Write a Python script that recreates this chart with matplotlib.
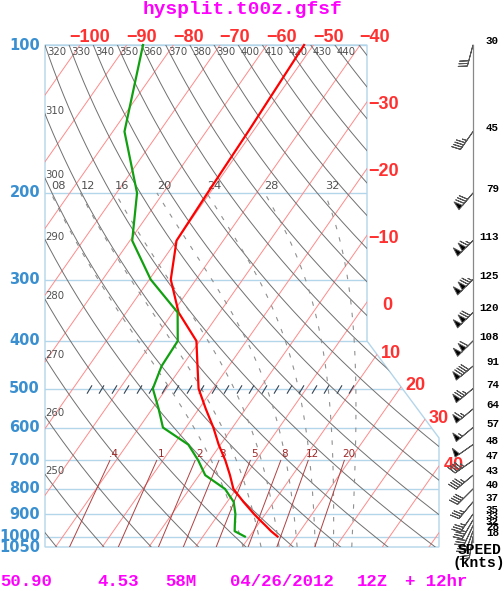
import numpy as np
import matplotlib
matplotlib.use("Agg")
import matplotlib.pyplot as plt
from matplotlib.patches import Polygon
from matplotlib.path import Path

# ---------------- data ----------------
pressure = [100, 150, 200, 250, 300, 350, 400, 450, 500, 550, 600, 650,
            700, 750, 800, 850, 900, 925, 950, 975, 1000]
temperature = [-52.0, -51.0, -50.5, -50.0, -45.4, -38.8, -30.7, -26.7, -23.1,
               -18.5, -14.1, -10.4, -6.6, -3.4, -0.6, 3.5, 7.6, 9.7, 11.8,
               13.8, 16.0]
dewpoint = [-86.5, -77.5, -65.6, -59.5, -49.7, -39.0, -34.7, -34.4, -32.9,
            -28.6, -24.9, -16.9, -12.4, -8.7, -2.4, 1.4, 3.6, 4.4, 5.2, 6.0,
            9.0]
wind_speed = [30, 45, 79, 113, 125, 120, 108, 91, 74, 64, 57, 48, 47, 43, 40,
              37, 35, 33, 32, 28, 18]
wind_dir = [195, 215, 220, 225, 225, 225, 225, 230, 230, 230, 230, 235, 235,
            230, 225, 220, 215, 210, 205, 200, 190]

isobar_levels = [100, 200, 300, 400, 500, 600, 700, 800, 900, 1000]
pressure_labels = [100, 200, 300, 400, 500, 600, 700, 800, 900, 1000, 1050]
isotherm_values = list(range(-110, 60, 10))
top_T_labels = [-100, -90, -80, -70, -60, -50, -40]
right_T_labels = [-30, -20, -10, 0, 10, 20, 30, 40]
theta_values = list(range(240, 460, 10))
theta_left_labels = [250, 260, 270, 280, 290, 300, 310]
theta_top_labels = [320, 330, 340, 350, 360, 370, 380, 390, 400, 410, 420, 430, 440]
moist_values = [8, 12, 16, 20, 24, 28, 32]
moist_labels = ["08", "12", "16", "20", "24", "28", "32"]
mixr_values = [0.4, 1, 2, 3, 5, 8, 12, 20]
mixr_labels = [".4", "1", "2", "3", "5", "8", "12", "20"]

title = "hysplit.t00z.gfsf"
footer = [("50.90", 0), ("4.53", 97), ("58M", 165), ("04/26/2012", 230),
          ("12Z", 357), ("+ 12hr", 405)]

# ---------------- geometry / style ----------------
W, H = 504, 591
K = 32.0          # skew (deg C per ln p)
XL, XR = -107.5, -23.1
XM = XL + (367 - 45) / 394.0 * (XR - XL)
P_DIAG_TOP, P_DIAG_BOT = 400, 630
PX = 0.72         # points per pixel at 100 dpi

BLUE = "#3a8fd0"
ISOBAR = "#b4d6ea"
ISOTHERM = "#ff8a8a"
MIXR = "#b04040"
DRY = "#707070"
MOIST = "#909090"
RED_LBL = "#ff3030"
MAGENTA = "#ff00ff"


def skew(T, p):
    return np.asarray(T, dtype=float) - K * np.log(np.asarray(p, dtype=float) / 100.0)


fig = plt.figure(figsize=(W / 100, H / 100), dpi=100)
fig.patch.set_facecolor("white")


def px_axes(x0, y0, x1, y1):
    return fig.add_axes([x0 / W, 1 - y1 / H, (x1 - x0) / W, (y1 - y0) / H])


def ftext(x, y, s, **kw):
    fig.text(x / W, 1 - y / H, s, **kw)


ax = px_axes(45, 45, 439, 547)
ax.set_yscale("log")
ax.set_ylim(1050, 100)
ax.set_xlim(XL, XR)
ax.axis("off")

border = Polygon([(XL, 100), (XM, 100), (XM, P_DIAG_TOP), (XR, P_DIAG_BOT),
                  (XR, 1050), (XL, 1050)], closed=True, fill=False,
                 edgecolor=ISOBAR, lw=1.0, transform=ax.transData, zorder=1,
                 clip_on=False)
ax.add_patch(border)


def clipped(lines):
    for ln in lines:
        ln.set_clip_path(border)


# isobars
for p in isobar_levels:
    clipped(ax.plot([XL, XR], [p, p], color=ISOBAR, lw=1.0, zorder=1))

# isotherms
pp2 = np.array([100.0, 1050.0])
for T in isotherm_values:
    clipped(ax.plot(skew(T, pp2), pp2, color=ISOTHERM, lw=0.7, zorder=2))

# dry adiabats
pp = np.geomspace(100, 1050, 200)
for th in theta_values:
    Tt = th * (pp / 1000.0) ** 0.286 - 273.15
    clipped(ax.plot(skew(Tt, pp), pp, color=DRY, lw=0.7, zorder=2))


# moist adiabats (pseudo-adiabats)
def dTdp(T, p):
    Rd, Cp, Lv, eps = 287.04, 1005.7, 2.501e6, 0.622
    Tc = T - 273.15
    es = 6.112 * np.exp(17.67 * Tc / (Tc + 243.5))
    rs = eps * es / (p - es)
    return (Rd * T + Lv * rs) / p / (Cp + Lv * Lv * rs * eps / (Rd * T * T))


def integrate(T0, p_from, p_to, n=300):
    ps = np.linspace(p_from, p_to, n)
    Ts = [T0]
    for i in range(n - 1):
        h = ps[i + 1] - ps[i]
        T, p = Ts[-1], ps[i]
        k1 = dTdp(T, p)
        k2 = dTdp(T + h * k1 / 2, p + h / 2)
        k3 = dTdp(T + h * k2 / 2, p + h / 2)
        k4 = dTdp(T + h * k3, p + h)
        Ts.append(T + h * (k1 + 2 * k2 + 2 * k3 + k4) / 6)
    return ps, np.array(Ts)


moist_top = {}
for tw in moist_values:
    pu, Tu = integrate(tw + 273.15, 1000.0, 200.0)
    pd, Td_ = integrate(tw + 273.15, 1000.0, 1050.0, 20)
    pm = np.concatenate([pd[::-1], pu[1:]])
    Tm = np.concatenate([Td_[::-1], Tu[1:]]) - 273.15
    ln, = ax.plot(skew(Tm, pm), pm, color=MOIST, lw=0.8, zorder=2,
                  dashes=(4.0, 7.5))
    ln.set_clip_path(border)
    moist_top[tw] = Tu[-1] - 273.15

# mixing-ratio lines
pw = np.array([700.0, 1050.0])
mix_700 = {}
for w in mixr_values:
    e = w / 1000.0 * pw / (0.622 + w / 1000.0)
    lnr = np.log(e / 6.112)
    Tdw = 243.5 * lnr / (17.67 - lnr)
    clipped(ax.plot(skew(Tdw, pw), pw, color=MIXR, lw=0.7, zorder=2))
    mix_700[w] = Tdw[0]

# hatch marks along 500 hPa
hx = np.linspace(XL + (89 - 45) / 394.0 * (XR - XL),
                 XL + (351 - 45) / 394.0 * (XR - XL), 22)
slash = Path([(-0.6, -1.0), (0.6, 1.0)], [Path.MOVETO, Path.LINETO])
ax.plot(hx, np.full_like(hx, 500.0), ls="none", marker=slash, ms=6,
        mew=0.8, mec="#334455", zorder=3)

# sounding
ax.plot(skew(temperature, pressure), pressure, color="#ff0000", lw=1.6,
        zorder=6, clip_on=False)
ax.plot(skew(dewpoint, pressure), pressure, color="#10a010", lw=1.6,
        zorder=6, clip_on=False)


# ---------------- labels ----------------
def ann(s, X, p, dx, dy, **kw):
    ax.annotate(s, xy=(X, p), xycoords="data", xytext=(dx * PX, dy * PX),
                textcoords="offset points", annotation_clip=False, **kw)


for p in pressure_labels:
    ann(str(p), XL, p, -5, 0, ha="right", va="center", color=BLUE,
        fontsize=10.5, fontweight="bold", family="DejaVu Sans")

lbl_kw = dict(color=RED_LBL, fontsize=13, fontweight="bold",
              family="Liberation Sans")
for T in top_T_labels:
    ann(str(T).replace("-", "\u2212"), float(skew(T, 100)), 100, 30, 7,
        ha="right", va="center", **lbl_kw)

lnr_top, lnr_bot = np.log(P_DIAG_TOP), np.log(P_DIAG_BOT)
for T in right_T_labels:
    s = str(T).replace("-", "\u2212")
    pc = 100 * np.exp((T - XM) / K)
    if pc <= P_DIAG_TOP:
        dx = 1 if T < 0 else 15
        ann(s, XM, pc, dx, -3, ha="left", va="center", **lbl_kw)
        continue
    pc2 = 100 * np.exp((T - XR) / K)
    if pc2 >= P_DIAG_BOT:
        ann(s, XR, pc2, 5, 0, ha="left", va="center", **lbl_kw)
        continue
    a = (XR - XM) / (lnr_bot - lnr_top)
    L = (T + K * np.log(100) - XM + a * lnr_top) / (K + a)
    pc3 = np.exp(L)
    ann(s, float(skew(T, pc3)), pc3, 4, 1, ha="left", va="center", **lbl_kw)

th_kw = dict(color="#505050", fontsize=7.3, family="DejaVu Sans")
for th in theta_top_labels:
    Tt = th * (100 / 1000.0) ** 0.286 - 273.15
    ann(str(th), float(skew(Tt, 100)), 100, 2, -7, ha="left", va="center",
        **th_kw)
for th in theta_left_labels:
    lo, hi = 100.0, 1050.0
    for _ in range(60):
        mid = 0.5 * (lo + hi)
        f = skew(th * (mid / 1000.0) ** 0.286 - 273.15, mid) - XL
        if f > 0:
            hi = mid
        else:
            lo = mid
    ann(str(th), XL, mid, 0, 3, ha="left", va="center", **th_kw)

for tw, s in zip(moist_values, moist_labels):
    ann(s, float(skew(moist_top[tw], 200)), 200, 0, 2, ha="left",
        va="bottom", color="#505050", fontsize=8.2, family="DejaVu Sans")

for w, s in zip(mixr_values, mixr_labels):
    ann(s, float(skew(mix_700[w], 700)), 700, 4, 1, ha="center",
        va="bottom", color="#a02828", fontsize=7.5, family="DejaVu Sans")

# ---------------- wind barbs ----------------
bx = px_axes(440, 45, 506, 547)
bx.set_yscale("log")
bx.set_ylim(1050, 100)
bx.set_xlim(0, 66)
bx.axis("off")
bx.plot([33, 33], [100, 1025], color="#888888", lw=0.9, clip_on=False)
spd = np.array(wind_speed, float)
drc = np.radians(wind_dir)
u = -spd * np.sin(drc)
v = -spd * np.cos(drc)
bx.barbs(np.full(len(pressure), 33.0), pressure, u, v, length=5.6,
         barbcolor="#555555", flagcolor="black", lw=0.7, clip_on=False,
         sizes=dict(emptybarb=0.0))
for p, s in zip(pressure, wind_speed):
    bx.annotate(str(s), xy=(33, p), xytext=(26 * PX, 4 * PX),
                textcoords="offset points", ha="right", va="center",
                fontsize=7.8, fontweight="bold", family="Liberation Mono",
                annotation_clip=False)

ftext(480, 550, "SPEED", ha="center", va="center", fontsize=10.5,
      fontweight="bold", family="Liberation Mono")
ftext(479, 563, "(knts)", ha="center", va="center", fontsize=10.5,
      fontweight="bold", family="Liberation Mono")

# ---------------- title / footer ----------------
ftext(242, 9, title, ha="center", va="center", fontsize=14,
      fontweight="bold", family="Liberation Mono", color=MAGENTA)
for s, x in footer:
    ftext(x, 582, s, ha="left", va="center", fontsize=12.5,
          fontweight="bold", family="Liberation Mono", color=MAGENTA)

fig.savefig("out.png", dpi=100)
